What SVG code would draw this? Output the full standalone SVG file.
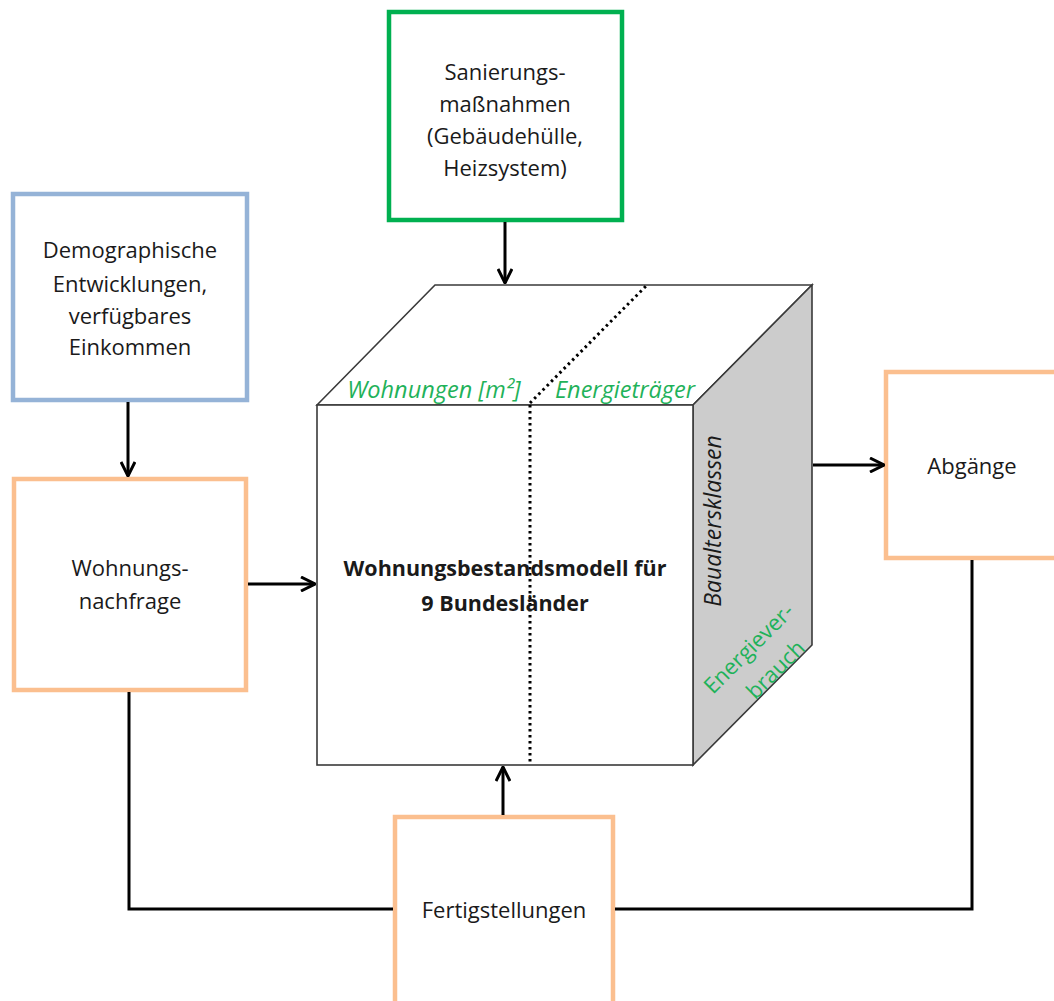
<svg xmlns="http://www.w3.org/2000/svg" width="1054" height="1001" viewBox="0 0 1054 1001">
<style>
text{font-family:"Open Sans","Liberation Sans",sans-serif;font-size:22px;fill:#1a1a1a;text-anchor:middle}
.box{fill:#fff;stroke-width:4.5}
.orange{stroke:#fbbf8f}
.blue{stroke:#95b3d7}
.green{stroke:#00b050}
.conn{fill:none;stroke:#000;stroke-width:3}
.edge{stroke:#3a3a3a;stroke-width:1.6;stroke-linejoin:miter}
.dot{fill:none;stroke:#000;stroke-width:3;stroke-dasharray:2.5 3.5}
.gt{fill:#1fb25a;font-style:italic;font-size:23.5px}
</style>
<defs>
<marker id="arr" viewBox="0 0 16 16" refX="15" refY="8" markerWidth="16" markerHeight="16" markerUnits="userSpaceOnUse" orient="auto">
<path d="M1,1 L15,8 L1,15" fill="none" stroke="#000" stroke-width="3"/>
</marker>
</defs>

<g id="cube">
<polygon class="edge" points="317,405 435,285 812,285 693,405" fill="#fff"/>
<polygon class="edge" points="693,405 812,285 812,645 693,765" fill="#cccccc"/>
<rect class="edge" x="317" y="405" width="376" height="360" fill="#fff"/>
<path class="dot" d="M530,405 L530,765"/>
<path class="dot" d="M530,403 L646,286"/>
<text class="gt" x="434" y="398">Wohnungen [m²]</text>
<text class="gt" x="625" y="398">Energieträger</text>
<text x="505" y="576" style="font-weight:bold;font-size:21.5px">Wohnungsbestandsmodell für</text>
<text x="505" y="611" style="font-weight:bold;font-size:21.5px">9 Bundesländer</text>
<text x="0" y="0" style="font-style:italic;font-size:23px" transform="translate(721,521) rotate(-90)">Baualtersklassen</text>
<text class="gt" style="font-style:normal;font-size:22px" transform="translate(754,654) rotate(-45)">Energiever-</text>
<text class="gt" style="font-style:normal;font-size:22px" transform="translate(781,675) rotate(-45)">brauch</text>
</g>

<g id="sanierung">
<rect class="box green" x="389" y="12" width="233" height="208"/>
<text x="505" y="80">Sanierungs-</text>
<text x="505" y="112">maßnahmen</text>
<text x="505" y="144">(Gebäudehülle,</text>
<text x="505" y="176">Heizsystem)</text>
</g>

<g id="demographie">
<rect class="box blue" x="13" y="194" width="234" height="206"/>
<text x="130" y="258">Demographische</text>
<text x="130" y="292">Entwicklungen,</text>
<text x="130" y="324">verfügbares</text>
<text x="130" y="355">Einkommen</text>
</g>

<g id="nachfrage">
<rect class="box orange" x="14" y="479" width="232" height="211"/>
<text x="130" y="576">Wohnungs-</text>
<text x="130" y="609">nachfrage</text>
</g>

<g id="abgaenge">
<rect class="box orange" x="886" y="372" width="180" height="186"/>
<text x="972" y="474">Abgänge</text>
</g>

<g id="fertigstellungen">
<rect class="box orange" x="395" y="817" width="218" height="200"/>
<text x="504" y="918">Fertigstellungen</text>
</g>

<g id="connectors">
<path class="conn" d="M505,222 L505,283" marker-end="url(#arr)"/>
<path class="conn" d="M128,402 L128,476" marker-end="url(#arr)"/>
<path class="conn" d="M248,584 L315,584" marker-end="url(#arr)"/>
<path class="conn" d="M813,465 L884,465" marker-end="url(#arr)"/>
<path class="conn" d="M503,815 L503,767" marker-end="url(#arr)"/>
<path class="conn" d="M129,692 L129,909 L393,909"/>
<path class="conn" d="M972,560 L972,909 L615,909"/>
</g>
</svg>
